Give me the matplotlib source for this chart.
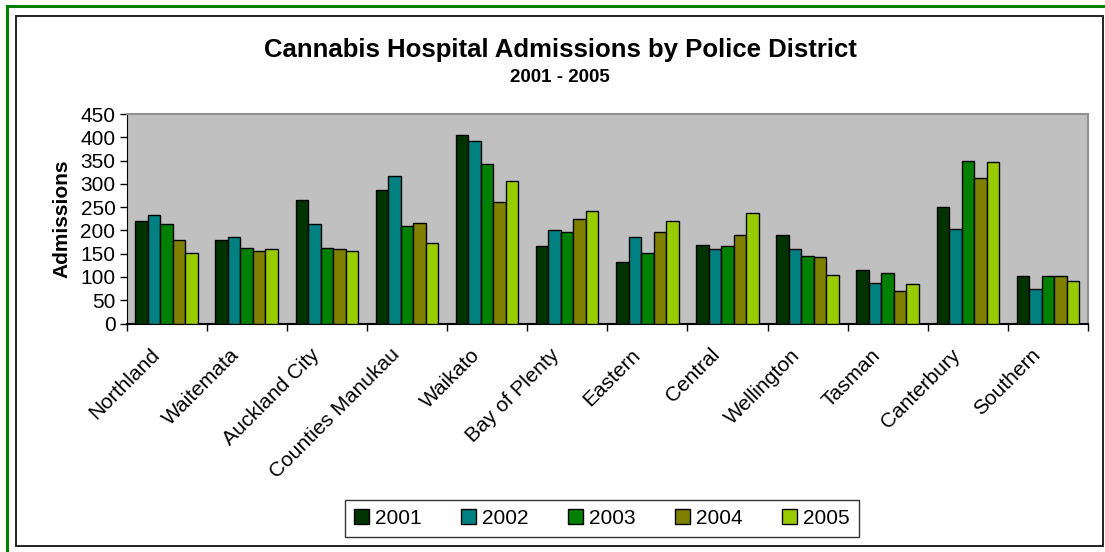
import matplotlib
matplotlib.use("Agg")
import matplotlib.pyplot as plt
import matplotlib.transforms as mtransforms
from matplotlib.patches import Rectangle
from matplotlib.lines import Line2D
import numpy as np

plt.rcParams['font.family'] = ['Liberation Sans', 'DejaVu Sans']

# admissions per police district, 2001-2005
districts = ['Northland', 'Waitemata', 'Auckland City', 'Counties Manukau',
             'Waikato', 'Bay of Plenty', 'Eastern', 'Central', 'Wellington',
             'Tasman', 'Canterbury', 'Southern']
years = ['2001', '2002', '2003', '2004', '2005']
adm_2001 = [220, 179, 265, 286, 405, 166, 132, 169, 190, 115, 251, 102]
adm_2002 = [234, 186, 213, 316, 391, 200, 186, 159, 159, 88, 204, 74]
adm_2003 = [213, 162, 163, 209, 343, 197, 152, 166, 145, 108, 350, 101]
adm_2004 = [179, 156, 159, 216, 262, 224, 197, 190, 143, 70, 313, 101]
adm_2005 = [152, 159, 156, 172, 306, 241, 220, 238, 105, 84, 347, 91]
colors = ['#003300', '#008080', '#008000', '#808000', '#99CC00']

series = [adm_2001, adm_2002, adm_2003, adm_2004, adm_2005]

W, H = 1105, 552
fig = plt.figure(figsize=(W / 100, H / 100), dpi=100)

# outer green border and inner black frame
fig.add_artist(Line2D([7 / W, 7 / W], [0, 1 - 6 / H], color='#008000', lw=2.2,
                      transform=fig.transFigure))
fig.add_artist(Line2D([7 / W, 1], [1 - 6 / H, 1 - 6 / H], color='#008000', lw=2.2,
                      transform=fig.transFigure))
fig.add_artist(Rectangle((16 / W, 1 - 546 / H), (1103 - 16) / W, (546 - 15.5) / H,
                         transform=fig.transFigure, fill=False, edgecolor='#222222',
                         lw=1.4))

ax = fig.add_axes([126.5 / W, 1 - 323.5 / H, (1088 - 126.5) / W, (323.5 - 114) / H])
ax.set_facecolor('#C0C0C0')

x = np.arange(len(districts))
bw = 0.156
for i, (vals, c, yr) in enumerate(zip(series, colors, years)):
    ax.bar(x + (i - 2) * bw, vals, width=bw, color=c, edgecolor='black',
           linewidth=1.0, label=yr, zorder=3)

ax.set_xlim(-0.5, len(districts) - 0.5)
ax.set_ylim(0, 450)
ax.set_yticks(np.arange(0, 451, 50))
ax.tick_params(axis='y', labelsize=15, length=5, width=1, pad=3)
ax.set_xticks(x)
ax.set_xticklabels(districts, rotation=45, ha='right', rotation_mode='anchor',
                   fontsize=15)
ax.tick_params(axis='x', length=0, pad=12)
# shift the slanted names a little left of the group centres
shift = mtransforms.ScaledTranslation(-0.17, -0.05, fig.dpi_scale_trans)
for lbl in ax.get_xticklabels():
    lbl.set_transform(lbl.get_transform() + shift)
# group separators below the axis
ax.set_xticks(np.arange(-0.5, len(districts), 1), minor=True)
ax.tick_params(axis='x', which='minor', length=5, width=1)

for s in ['top', 'right']:
    ax.spines[s].set_color('#909090')
    ax.spines[s].set_linewidth(1.5)
ax.spines['left'].set_color('black')
ax.spines['bottom'].set_color('black')
ax.spines['bottom'].set_linewidth(1.5)

ax.set_ylabel('Admissions', fontsize=15, fontweight='bold', labelpad=6)

fig.text(560 / W, 1 - 50 / H, 'Cannabis Hospital Admissions by Police District',
         ha='center', va='center', fontsize=18.5, fontweight='bold')
fig.text(560 / W, 1 - 78 / H, '2001 - 2005', ha='center', va='center',
         fontsize=13.5, fontweight='bold')

leg = fig.legend(loc='center', bbox_to_anchor=(602 / W, 1 - 518.5 / H), ncol=5,
                 fontsize=15, frameon=True, fancybox=False, edgecolor='black',
                 handlelength=0.7, handleheight=0.7, handletextpad=0.3,
                 columnspacing=1.9, borderpad=0.45)
leg.get_frame().set_linewidth(1.0)

fig.savefig('out.png', dpi=100)
